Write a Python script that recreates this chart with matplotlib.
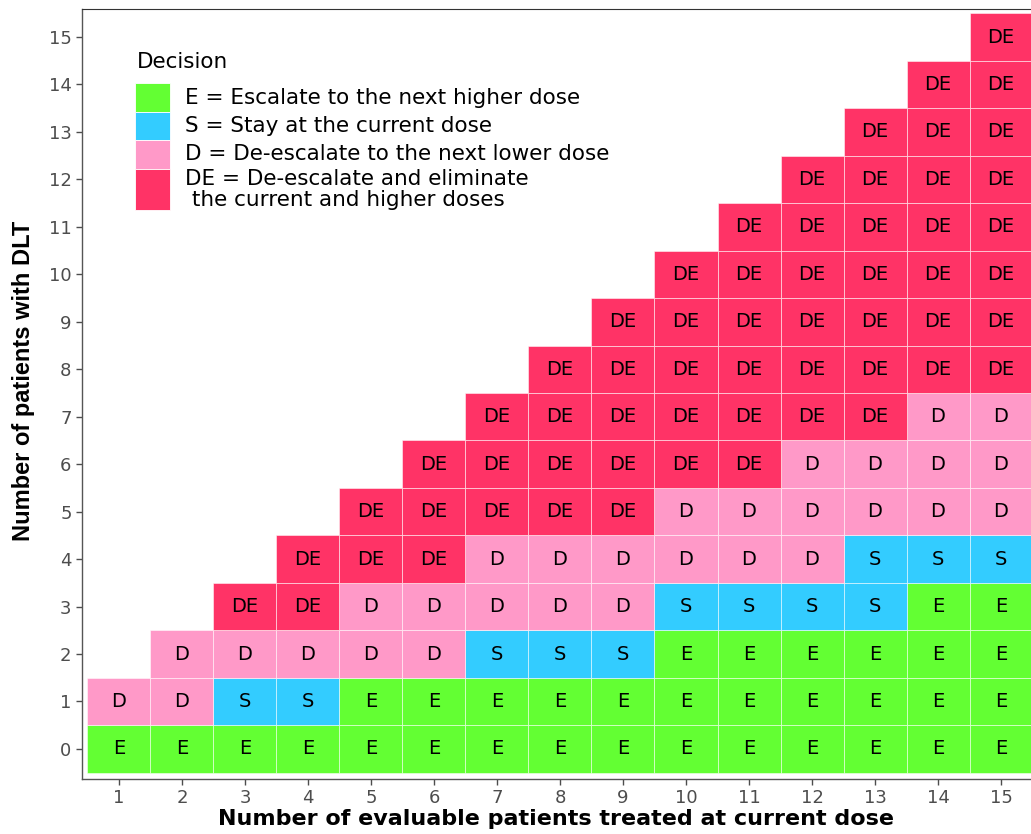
import matplotlib.pyplot as plt
from matplotlib.patches import Rectangle

plt.rcParams['font.family'] = ['DejaVu Sans']

# decision boundaries per number of treated patients
n_treated = list(range(1, 16))
escalate_max = [0, 0, 0, 0, 1, 1, 1, 1, 1, 2, 2, 2, 2, 3, 3]
stay_max = [0, 0, 1, 1, 1, 1, 2, 2, 2, 3, 3, 3, 4, 4, 4]
deescalate_max = [1, 2, 2, 2, 3, 3, 4, 4, 4, 5, 5, 6, 6, 7, 7]

codes = ["E", "S", "D", "DE"]
colors = {"E": "#63FF33", "S": "#33CCFF", "D": "#FF99C8", "DE": "#FF3366"}
labels = ["E = Escalate to the next higher dose",
          "S = Stay at the current dose",
          "D = De-escalate to the next lower dose",
          "DE = De-escalate and eliminate\n the current and higher doses"]


def decide(y, i):
    if y <= escalate_max[i]:
        return "E"
    if y <= stay_max[i]:
        return "S"
    if y <= deescalate_max[i]:
        return "D"
    return "DE"


cells = {c: ([], []) for c in codes}
for i, n in enumerate(n_treated):
    for y in range(0, n + 1):
        c = decide(y, i)
        cells[c][0].append(n)
        cells[c][1].append(y)

W, H = 1031, 834
fig = plt.figure(figsize=(W / 100, H / 100), dpi=100)
ax = fig.add_axes([82 / W, 1 - 779 / H, (W - 82) / W, 770 / H])

for c in codes:
    xs, ys = cells[c]
    ax.bar(xs, [1] * len(xs), width=1, bottom=[v - 0.5 for v in ys],
           color=colors[c], edgecolor=(1, 1, 1, 0.6), linewidth=0.6)
    for x, y in zip(xs, ys):
        ax.text(x, y, c, ha="center", va="center", fontsize=14, color="black")

ax.set_xlim(0.413, 15.476)
ax.set_ylim(-0.633, 15.59)
ax.set_xticks(n_treated)
ax.set_yticks(range(0, 16))
ax.tick_params(colors="#4D4D4D", labelsize=13, length=4, width=1, labelcolor="#4D4D4D")
ax.spines["right"].set_visible(False)
ax.spines["top"].set_color("#333333")
ax.spines["top"].set_linewidth(0.8)
for s in ["left", "bottom"]:
    ax.spines[s].set_color("#555555")
    ax.spines[s].set_linewidth(1.0)

ax.set_xlabel("Number of evaluable patients treated at current dose",
              fontsize=16, fontweight="bold", labelpad=1)
ax.set_ylabel("Number of patients with DLT", fontsize=17, fontweight="bold",
              family=["Liberation Sans", "DejaVu Sans"])
ax.yaxis.set_label_coords(-0.05, 0.517)

# legend drawn by hand to mimic ggplot key layout
fig.text(137 / W, 1 - 62 / H, "Decision", fontsize=15.5, va="center", ha="left")
key_edges = [83, 112, 140, 169, 210]
for k, c in enumerate(codes):
    top, bot = key_edges[k], key_edges[k + 1]
    fig.patches.append(Rectangle((135 / W, 1 - bot / H), 35 / W, (bot - top) / H,
                                 transform=fig.transFigure, facecolor=colors[c],
                                 edgecolor="white", linewidth=0.6))
    fig.text(185 / W, 1 - (top + bot) / 2 / H, labels[k], fontsize=15.5,
             va="center", ha="left", linespacing=1.05)

fig.savefig("out.png", dpi=100)
